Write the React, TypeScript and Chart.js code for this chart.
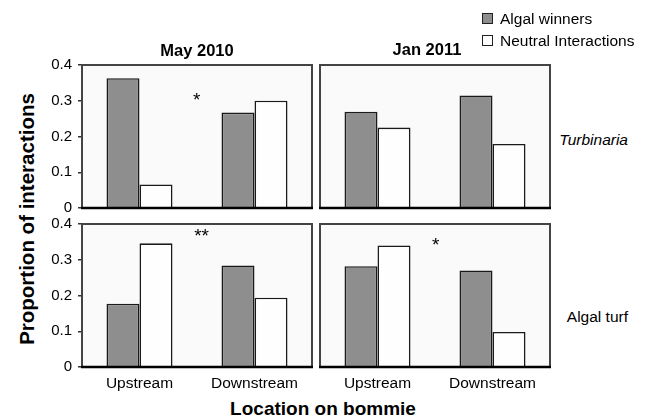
import React, { useEffect, useRef } from "react";
import { Chart, registerables } from "chart.js";

Chart.register(...registerables);

// Bommie locations (x categories) and series
const locations = ["Upstream", "Downstream"];
const seriesNames = ["Algal winners", "Neutral Interactions"];
const surveyDates = ["May 2010", "Jan 2011"];
const algaeTypes = ["Turbinaria", "Algal turf"];

// Proportion of interactions, one array per panel and series
const turbinariaMayWinners = [0.363, 0.267];
const turbinariaMayNeutral = [0.066, 0.3];
const turbinariaJanWinners = [0.269, 0.315];
const turbinariaJanNeutral = [0.225, 0.179];
const turfMayWinners = [0.177, 0.284];
const turfMayNeutral = [0.346, 0.194];
const turfJanWinners = [0.282, 0.27];
const turfJanNeutral = [0.34, 0.098];

// Significance markers: [text, x position in category units, y in data units]
const sigTurbinariaMay: [string, number, number] = ["*", 0.497, 0.316];
const sigTurfMay: [string, number, number] = ["**", 0.54, 0.379];
const sigTurfJan: [string, number, number] = ["*", 0.506, 0.354];

const yMin = 0;
const yMax = 0.4;
const yStep = 0.05;

const FONT = "'Liberation Sans', Arial, Helvetica, sans-serif";
const WINNER_FILL = "#8e8e8e";
const NEUTRAL_FILL = "#fefefe";
const BAR_EDGE = "#1a1a1a";
const PANEL_BG = "#fafafa";
const FRAME = "#444444";

type PanelProps = {
  left: number; // plot area left (page px)
  top: number; // plot area top
  right: number;
  bottom: number;
  winners: number[];
  neutral: number[];
  showY: boolean;
  showX: boolean;
  mark?: [string, number, number];
};

const Y_AXIS_W = 42;
const X_AXIS_H = 30;
const PAD = 4;
const PAD_TOP = 12;

// Panel background, outline, baseline and significance asterisks
const panelFrame = {
  id: "panelFrame",
  beforeDraw(chart: any) {
    const { ctx, chartArea: a } = chart;
    ctx.save();
    ctx.fillStyle = PANEL_BG;
    ctx.fillRect(a.left, a.top, a.right - a.left, a.bottom - a.top);
    ctx.restore();
  },
  afterDraw(chart: any, _args: any, opts: any) {
    const { ctx, chartArea: a } = chart;
    ctx.save();
    ctx.setLineDash([]);
    ctx.strokeStyle = FRAME;
    ctx.lineWidth = 2;
    ctx.beginPath();
    ctx.rect(a.left, a.top, a.right - a.left, a.bottom - a.top);
    ctx.stroke();
    ctx.strokeStyle = "#000";
    ctx.lineWidth = 2.5;
    ctx.beginPath();
    ctx.moveTo(a.left - 1, a.bottom);
    ctx.lineTo(a.right + 1, a.bottom);
    ctx.stroke();
    const mark = opts && opts.mark;
    if (mark) {
      const [txt, mx, my] = mark;
      const size = 19;
      const px = chart.scales.x.getPixelForValue(mx);
      const py = chart.scales.y.getPixelForValue(my);
      ctx.fillStyle = "#000";
      ctx.font = `${size}px ${FONT}`;
      ctx.textAlign = "center";
      ctx.textBaseline = "alphabetic";
      ctx.fillText(txt, px, py + size * 0.57);
    }
    ctx.restore();
  },
};

function Panel({ left, top, right, bottom, winners, neutral, showY, showX, mark }: PanelProps) {
  const ref = useRef<HTMLCanvasElement>(null);
  const cLeft = left - (showY ? Y_AXIS_W : PAD);
  const cTop = top - PAD_TOP;
  const cWidth = right + PAD - cLeft;
  const cHeight = bottom - cTop + (showX ? X_AXIS_H : PAD);

  useEffect(() => {
    const canvas = ref.current;
    if (!canvas) return;

    const chart = new Chart(canvas, {
      type: "bar",
      data: {
        labels: locations,
        datasets: [
          {
            label: seriesNames[0],
            data: winners,
            backgroundColor: WINNER_FILL,
            borderColor: BAR_EDGE,
            borderWidth: 1.6,
          },
          {
            label: seriesNames[1],
            data: neutral,
            backgroundColor: NEUTRAL_FILL,
            borderColor: BAR_EDGE,
            borderWidth: 1.6,
          },
        ],
      },
      options: {
        responsive: false,
        animation: false,
        devicePixelRatio: 1,
        layout: {
          padding: {
            left: showY ? 0 : PAD,
            right: PAD,
            top: PAD_TOP,
            bottom: showX ? 0 : PAD,
          },
        },
        datasets: {
          bar: { barPercentage: 1, categoryPercentage: 0.574 },
        },
        plugins: {
          legend: { display: false },
          tooltip: { enabled: false },
          title: { display: false },
          panelFrame: { mark },
        },
        scales: {
          x: {
            type: "category",
            display: showX,
            grid: { display: false },
            border: { display: false },
            ticks: {
              color: "#000",
              padding: -1,
              font: { family: FONT, size: 15.5 },
            },
            afterFit(scale: any) {
              scale.height = showX ? X_AXIS_H : 0;
              scale.paddingLeft = 0;
              scale.paddingRight = 0;
            },
          },
          y: {
            type: "linear",
            display: showY,
            min: yMin,
            max: yMax,
            grid: {
              drawOnChartArea: false,
              drawTicks: true,
              tickLength: 4,
              color: "#333",
              lineWidth: 1.5,
            },
            border: { display: true, color: "#333", width: 2 },
            ticks: {
              stepSize: yStep,
              color: "#000",
              padding: 6,
              font: { family: FONT, size: 15 },
              callback(value: any) {
                const v = Number(value);
                const hundredths = Math.round(v * 100);
                if (hundredths % 10 !== 0) return "";
                return hundredths === 0 ? "0" : (hundredths / 100).toFixed(1);
              },
            },
            afterFit(scale: any) {
              scale.width = showY ? Y_AXIS_W : 0;
              scale.paddingTop = 0;
              scale.paddingBottom = 0;
            },
          },
        },
      },
      plugins: [panelFrame],
    } as any);

    return () => chart.destroy();
  }, []);

  return (
    <canvas
      ref={ref}
      width={cWidth}
      height={cHeight}
      style={{ position: "absolute", left: cLeft, top: cTop, width: cWidth, height: cHeight }}
    />
  );
}

const textBase: React.CSSProperties = {
  position: "absolute",
  fontFamily: FONT,
  color: "#000",
  lineHeight: 1,
  whiteSpace: "nowrap",
};

function Centered({ x, y, size, bold, italic, children, rotate }: any) {
  return (
    <div
      style={{
        ...textBase,
        left: x,
        top: y,
        fontSize: size,
        fontWeight: bold ? "bold" : "normal",
        fontStyle: italic ? "italic" : "normal",
        transform: `translate(-50%, -50%)${rotate ? ` rotate(${rotate}deg)` : ""}`,
      }}
    >
      {children}
    </div>
  );
}

function LegendRow({ y, fill, label }: { y: number; fill: string; label: string }) {
  return (
    <>
      <div
        style={{
          position: "absolute",
          left: 482,
          top: y - 5.5,
          width: 11,
          height: 11,
          boxSizing: "border-box",
          background: fill,
          border: "1px solid #222",
        }}
      />
      <div style={{ ...textBase, left: 500, top: y, fontSize: 15.5, transform: "translateY(-50%)" }}>
        {label}
      </div>
    </>
  );
}

export default function App() {
  return (
    <div
      style={{
        position: "absolute",
        left: 0,
        top: 0,
        width: 647,
        height: 418,
        background: "#fff",
        overflow: "hidden",
      }}
    >
      <Panel left={82} top={65} right={312} bottom={208} winners={turbinariaMayWinners} neutral={turbinariaMayNeutral} showY showX={false} mark={sigTurbinariaMay} />
      <Panel left={320} top={65} right={550} bottom={208} winners={turbinariaJanWinners} neutral={turbinariaJanNeutral} showY={false} showX={false} />
      <Panel left={82} top={224} right={312} bottom={367} winners={turfMayWinners} neutral={turfMayNeutral} showY showX mark={sigTurfMay} />
      <Panel left={320} top={224} right={550} bottom={367} winners={turfJanWinners} neutral={turfJanNeutral} showY={false} showX mark={sigTurfJan} />

      <Centered x={197} y={50} size={16.5} bold>{surveyDates[0]}</Centered>
      <Centered x={427} y={49} size={16.5} bold>{surveyDates[1]}</Centered>

      <LegendRow y={18.5} fill={WINNER_FILL} label={seriesNames[0]} />
      <LegendRow y={40.5} fill={NEUTRAL_FILL} label={seriesNames[1]} />

      <div style={{ ...textBase, right: 647 - 628, top: 140, fontSize: 15.5, fontStyle: "italic", transform: "translateY(-50%)" }}>
        {algaeTypes[0]}
      </div>
      <div style={{ ...textBase, right: 647 - 628, top: 317, fontSize: 15.5, transform: "translateY(-50%)" }}>
        {algaeTypes[1]}
      </div>

      <Centered x={27} y={219} size={20.5} bold rotate={-90}>Proportion of interactions</Centered>
      <Centered x={323} y={408} size={19} bold>Location on bommie</Centered>
    </div>
  );
}
